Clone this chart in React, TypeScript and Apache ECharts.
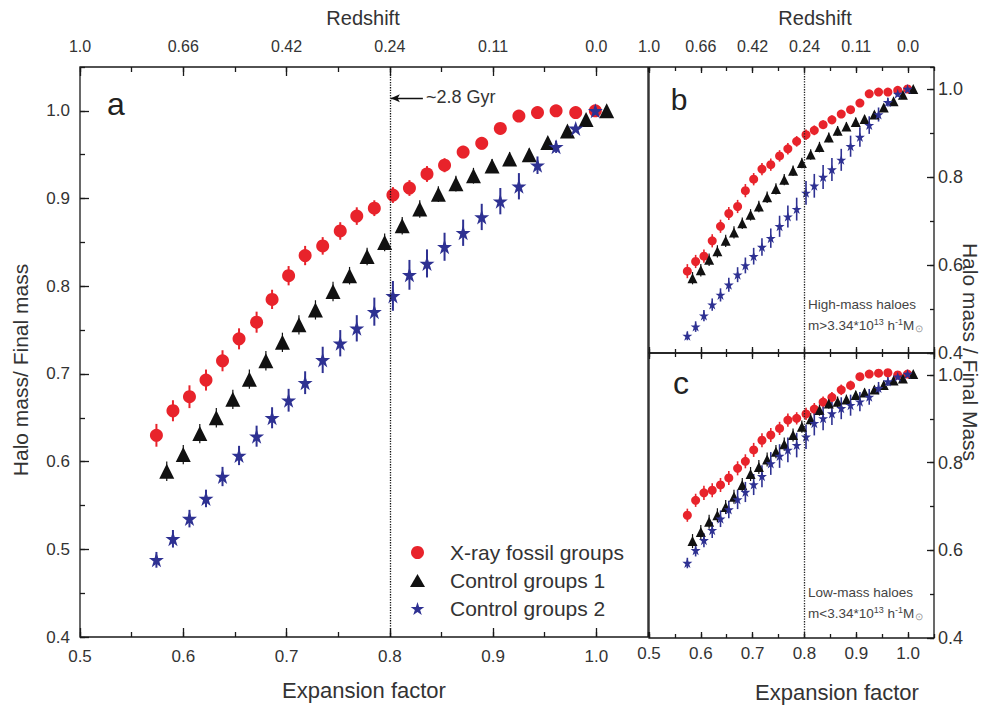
import React, { useEffect, useRef } from "react";
import * as echarts from "echarts";

// ---------- data ----------
const expansionTicks = [0.5, 0.6, 0.7, 0.8, 0.9, 1.0];
const redshiftLabels = ["1.0", "0.66", "0.42", "0.24", "0.11", "0.0"];

// expansion factors of the snapshots
const aRed = [0.574, 0.590, 0.606, 0.622, 0.638, 0.654, 0.671, 0.686, 0.702, 0.718, 0.735, 0.752, 0.768, 0.785, 0.803, 0.819, 0.836, 0.853, 0.871, 0.889, 0.907, 0.925, 0.943, 0.961, 0.980, 0.999];
const aBlack = [0.584, 0.600, 0.616, 0.632, 0.648, 0.664, 0.680, 0.696, 0.712, 0.728, 0.745, 0.761, 0.778, 0.795, 0.812, 0.829, 0.847, 0.864, 0.881, 0.899, 0.916, 0.935, 0.953, 0.972, 0.990, 1.010];

// panel a
const redA = [0.630, 0.658, 0.674, 0.693, 0.715, 0.740, 0.759, 0.785, 0.812, 0.835, 0.846, 0.863, 0.880, 0.889, 0.904, 0.912, 0.928, 0.938, 0.953, 0.963, 0.980, 0.994, 0.998, 1.000, 0.998, 1.000];
const redAErr = [0.013, 0.012, 0.013, 0.012, 0.012, 0.012, 0.012, 0.011, 0.011, 0.011, 0.010, 0.010, 0.010, 0.009, 0.009, 0.009, 0.009, 0.008, 0.007, 0.007, 0.006, 0.004, 0.003, 0.003, 0.003, 0.002];
const blackA = [0.589, 0.608, 0.632, 0.650, 0.671, 0.694, 0.715, 0.736, 0.756, 0.773, 0.794, 0.812, 0.834, 0.850, 0.869, 0.888, 0.905, 0.917, 0.926, 0.937, 0.945, 0.950, 0.964, 0.977, 0.990, 1.000];
const blackAErr = [0.011, 0.011, 0.011, 0.011, 0.011, 0.011, 0.011, 0.011, 0.011, 0.011, 0.011, 0.010, 0.010, 0.010, 0.010, 0.010, 0.009, 0.009, 0.009, 0.008, 0.008, 0.007, 0.006, 0.005, 0.004, 0.003];
const blueA = [0.488, 0.512, 0.535, 0.558, 0.583, 0.607, 0.629, 0.650, 0.670, 0.690, 0.716, 0.735, 0.752, 0.771, 0.789, 0.813, 0.826, 0.845, 0.861, 0.879, 0.897, 0.914, 0.938, 0.959, 0.980, 1.000];
const blueAErr = [0.009, 0.010, 0.010, 0.010, 0.011, 0.011, 0.012, 0.012, 0.013, 0.013, 0.015, 0.015, 0.015, 0.016, 0.017, 0.017, 0.016, 0.016, 0.015, 0.015, 0.015, 0.015, 0.010, 0.007, 0.004, 0.002];

// panel b (high-mass haloes)
const redB = [0.586, 0.608, 0.620, 0.655, 0.688, 0.717, 0.733, 0.769, 0.795, 0.818, 0.828, 0.848, 0.864, 0.881, 0.896, 0.906, 0.919, 0.930, 0.943, 0.953, 0.968, 0.989, 0.993, 0.993, 0.997, 1.000];
const redBErr = [0.016, 0.015, 0.015, 0.015, 0.015, 0.015, 0.015, 0.015, 0.014, 0.014, 0.014, 0.013, 0.013, 0.012, 0.012, 0.011, 0.010, 0.010, 0.009, 0.008, 0.007, 0.005, 0.004, 0.004, 0.003, 0.002];
const blackB = [0.570, 0.588, 0.612, 0.631, 0.655, 0.674, 0.695, 0.714, 0.733, 0.754, 0.773, 0.794, 0.814, 0.832, 0.851, 0.868, 0.890, 0.905, 0.915, 0.925, 0.932, 0.942, 0.958, 0.972, 0.987, 1.000];
const blackBErr = [0.014, 0.014, 0.014, 0.014, 0.014, 0.014, 0.013, 0.013, 0.013, 0.013, 0.013, 0.013, 0.012, 0.012, 0.012, 0.012, 0.011, 0.011, 0.010, 0.010, 0.009, 0.008, 0.007, 0.006, 0.004, 0.003];
const blueB = [0.439, 0.460, 0.485, 0.510, 0.532, 0.555, 0.578, 0.599, 0.620, 0.641, 0.661, 0.688, 0.710, 0.727, 0.764, 0.780, 0.800, 0.817, 0.839, 0.870, 0.891, 0.918, 0.942, 0.970, 0.989, 1.000];
const blueBErr = [0.010, 0.012, 0.013, 0.014, 0.015, 0.016, 0.017, 0.018, 0.019, 0.020, 0.022, 0.024, 0.025, 0.026, 0.027, 0.027, 0.027, 0.026, 0.025, 0.024, 0.022, 0.020, 0.016, 0.010, 0.006, 0.003];

// panel c (low-mass haloes)
const redC = [0.680, 0.714, 0.731, 0.737, 0.749, 0.765, 0.787, 0.803, 0.829, 0.851, 0.863, 0.878, 0.897, 0.901, 0.911, 0.922, 0.938, 0.949, 0.966, 0.976, 0.996, 1.002, 1.004, 1.005, 1.000, 1.002];
const redCErr = [0.015, 0.015, 0.016, 0.016, 0.016, 0.016, 0.016, 0.016, 0.016, 0.016, 0.016, 0.015, 0.015, 0.014, 0.014, 0.014, 0.013, 0.012, 0.012, 0.011, 0.009, 0.008, 0.007, 0.006, 0.004, 0.002];
const blackC = [0.621, 0.642, 0.665, 0.680, 0.699, 0.722, 0.749, 0.774, 0.790, 0.807, 0.825, 0.842, 0.863, 0.882, 0.899, 0.920, 0.935, 0.939, 0.944, 0.954, 0.960, 0.967, 0.977, 0.987, 0.992, 1.002];
const blackCErr = [0.016, 0.016, 0.016, 0.016, 0.016, 0.016, 0.016, 0.016, 0.016, 0.016, 0.015, 0.015, 0.015, 0.014, 0.014, 0.013, 0.012, 0.012, 0.011, 0.010, 0.009, 0.008, 0.007, 0.006, 0.004, 0.003];
const blueC = [0.571, 0.600, 0.623, 0.646, 0.672, 0.693, 0.716, 0.733, 0.750, 0.769, 0.798, 0.815, 0.829, 0.840, 0.859, 0.890, 0.901, 0.912, 0.924, 0.931, 0.939, 0.950, 0.970, 0.985, 0.996, 1.002];
const blueCErr = [0.012, 0.014, 0.016, 0.018, 0.019, 0.020, 0.022, 0.023, 0.024, 0.025, 0.026, 0.027, 0.028, 0.028, 0.028, 0.028, 0.027, 0.026, 0.025, 0.024, 0.022, 0.018, 0.014, 0.010, 0.006, 0.003];

const seriesNames = ["X-ray fossil groups", "Control groups 1", "Control groups 2"];

// ---------- styling ----------
const FONT = '"Liberation Sans", Arial, Helvetica, sans-serif';
const NARROW = '"Liberation Sans Narrow", "Liberation Sans", Arial, sans-serif';
const TEXT = "#333";
const AXIS = "#1a1a1a";
const RED = "#e8232b";
const BLACK = "#111111";
const BLUE = "#2e3192";
const STAR = "path://M50,0 L61.8,35.5 L99,35.5 L69,57.5 L80.5,93 L50,71 L19.5,93 L31,57.5 L1,35.5 L38.2,35.5 Z";

const grids = [
  { left: 80, top: 67, width: 568, height: 570 },
  { left: 649, top: 67, width: 285, height: 286 },
  { left: 649, top: 353, width: 285, height: 285 },
];

const xAxes: any[] = [];
const yAxes: any[] = [];

function xAxisPair(gridIndex: number, position: string, majorLen: number, minorLen: number, label: any) {
  const main = xAxes.length;
  xAxes.push({
    type: "value", gridIndex, position, min: 0.5, max: 1.05, interval: 0.1,
    axisLine: { show: false }, splitLine: { show: false },
    axisTick: { show: true, inside: true, length: majorLen, lineStyle: { color: AXIS, width: 1.3 } },
    axisLabel: label ? { show: true, showMaxLabel: false, showMinLabel: true, ...label } : { show: false },
  });
  xAxes.push({
    type: "value", gridIndex, position, min: 0.5, max: 1.05, interval: 0.05,
    axisLine: { show: false }, splitLine: { show: false }, axisLabel: { show: false },
    axisTick: { show: true, inside: true, length: minorLen, lineStyle: { color: AXIS, width: 1.3 } },
  });
  return main;
}

function yAxisPair(gridIndex: number, position: string, majorStep: number, majorLen: number, minorLen: number, label: any) {
  const main = yAxes.length;
  yAxes.push({
    type: "value", gridIndex, position, min: 0.4, max: 1.05, interval: majorStep,
    axisLine: { show: false }, splitLine: { show: false },
    axisTick: { show: true, inside: true, length: majorLen, lineStyle: { color: AXIS, width: 1.3 } },
    axisLabel: label ? { show: true, showMaxLabel: false, showMinLabel: true, ...label } : { show: false },
  });
  yAxes.push({
    type: "value", gridIndex, position, min: 0.4, max: 1.05, interval: majorStep / 2,
    axisLine: { show: false }, splitLine: { show: false }, axisLabel: { show: false },
    axisTick: { show: true, inside: true, length: minorLen, lineStyle: { color: AXIS, width: 1.3 } },
  });
  return main;
}

const fmt1 = (v: number) => v.toFixed(1);
const fmtZ = (v: number) => {
  const i = expansionTicks.findIndex((t) => Math.abs(t - v) < 1e-6);
  return i >= 0 ? redshiftLabels[i] : "";
};
const tickLabel = { fontFamily: FONT, fontSize: 17, color: TEXT };

// panel a axes
const axA = {
  x: xAxisPair(0, "bottom", 9, 5, { ...tickLabel, margin: 11, formatter: fmt1 }),
  xTop: xAxisPair(0, "top", 9, 5, { fontFamily: NARROW, fontSize: 16, color: TEXT, margin: 13, formatter: fmtZ }),
  y: yAxisPair(0, "left", 0.1, 9, 5, { ...tickLabel, margin: 10, formatter: fmt1 }),
};
// panel b axes
const axB = {
  x: xAxisPair(1, "bottom", 6, 4, null),
  xTop: xAxisPair(1, "top", 6, 4, { fontFamily: NARROW, fontSize: 16, color: TEXT, margin: 13, formatter: fmtZ }),
  y: yAxisPair(1, "right", 0.2, 7, 4, { fontFamily: FONT, fontSize: 18, color: TEXT, margin: 4, formatter: fmt1 }),
};
// panel c axes
const axC = {
  x: xAxisPair(2, "bottom", 6, 4, { ...tickLabel, margin: 7, formatter: fmt1 }),
  xTop: xAxisPair(2, "top", 6, 4, null),
  y: yAxisPair(2, "right", 0.2, 7, 4, { fontFamily: FONT, fontSize: 18, color: TEXT, margin: 4, formatter: fmt1 }),
};

function errSeries(name: string, ax: any, xs: number[], ys: number[], es: number[], color: string, width: number) {
  return {
    type: "custom", name, xAxisIndex: ax.x, yAxisIndex: ax.y, z: 2,
    encode: { x: 0, y: 1 },
    data: xs.map((x, i) => [x, ys[i], es[i]]),
    renderItem: (params: any, api: any) => {
      const x = api.value(0), y = api.value(1), e = api.value(2);
      const p1 = api.coord([x, y - e]);
      const p2 = api.coord([x, y + e]);
      return { type: "line", shape: { x1: p1[0], y1: p1[1], x2: p2[0], y2: p2[1] }, style: { stroke: color, lineWidth: width } };
    },
    silent: true,
  };
}

function scat(name: string, ax: any, xs: number[], ys: number[], symbol: string, size: number, color: string, extra: any = {}) {
  return {
    type: "scatter", name, xAxisIndex: ax.x, yAxisIndex: ax.y, z: 3,
    symbol, symbolSize: size,
    itemStyle: { color, opacity: 1 },
    data: xs.map((x, i) => [x, ys[i]]),
    ...extra,
  };
}

const dottedLine = (color: string) => ({
  silent: true, symbol: "none", label: { show: false },
  lineStyle: { type: "dotted", color, width: 1.3 },
  data: [{ xAxis: 0.8 }],
});

const series: any[] = [];
function panel(ax: any, tag: string, red: number[], redE: number[], black: number[], blackE: number[], blue: number[], blueE: number[], big: boolean, extraRed: any, extraBlack: any) {
  series.push(errSeries(tag + "-err-red", ax, aRed, red, redE, RED, big ? 2 : 1.6));
  series.push(errSeries(tag + "-err-black", ax, aBlack, black, blackE, BLACK, 1.2));
  series.push(errSeries(tag + "-err-blue", ax, aRed, blue, blueE, BLUE, big ? 2 : 1.6));
  series.push(scat(seriesNames[0], ax, aRed, red, "circle", big ? 13 : 9, RED, extraRed));
  series.push(scat(seriesNames[1], ax, aBlack, black, "triangle", big ? 15 : 10, BLACK, extraBlack));
  series.push(scat(seriesNames[2], ax, aRed, blue, STAR, big ? 15 : 10, BLUE));
}

panel(axA, "a", redA, redAErr, blackA, blackAErr, blueA, blueAErr, true,
  { markLine: dottedLine("#111") },
  {
    markLine: {
      silent: true, label: { show: false }, symbol: ["none", "arrow"], symbolSize: [6, 9],
      lineStyle: { type: "solid", color: "#111", width: 1.3 },
      data: [[{ coord: [0.832, 1.0145] }, { coord: [0.801, 1.0145] }]],
    },
  });
panel(axB, "b", redB, redBErr, blackB, blackBErr, blueB, blueBErr, false, { markLine: dottedLine("#222") }, {});
panel(axC, "c", redC, redCErr, blackC, blackCErr, blueC, blueCErr, false, { markLine: dottedLine("#222") }, {});

const annoRich = {
  sup: { fontFamily: FONT, fontSize: 9, fill: "#444", padding: [0, 0, 7, 0] },
  sun: { fontFamily: FONT, fontSize: 10, fill: "#999", padding: [7, 0, 0, 1] },
  n: { fontFamily: FONT, fontSize: 13.5, fill: "#444" },
};

export default function App() {
  const ref = useRef<HTMLDivElement>(null);
  useEffect(() => {
    if (!ref.current) return;
    const chart = echarts.init(ref.current, null, { renderer: "svg" });
    chart.setOption({
      animation: false,
      backgroundColor: "#ffffff",
      grid: grids.map((g) => ({ ...g, show: true, borderColor: AXIS, borderWidth: 1.3, backgroundColor: "transparent", containLabel: false, outerBoundsMode: "none" })),
      xAxis: xAxes,
      yAxis: yAxes,
      legend: {
        data: seriesNames,
        orient: "vertical",
        left: 405,
        top: 537,
        itemWidth: 15,
        itemHeight: 13,
        itemGap: 7,
        selectedMode: false,
        textStyle: { fontFamily: FONT, fontSize: 21, color: TEXT, padding: [0, 0, 0, 20] },
      },
      series,
      graphic: [
        { type: "text", left: 426, top: 88, style: { text: "~2.8 Gyr", fontFamily: FONT, fontSize: 18, fill: TEXT } },
        { type: "text", x: 363, y: 18, style: { text: "Redshift", fontFamily: FONT, fontSize: 20, fill: TEXT, align: "center", verticalAlign: "middle" } },
        { type: "text", x: 815, y: 18, style: { text: "Redshift", fontFamily: FONT, fontSize: 20, fill: TEXT, align: "center", verticalAlign: "middle" } },
        { type: "text", x: 364, y: 690, style: { text: "Expansion factor", fontFamily: FONT, fontSize: 22, fill: TEXT, align: "center", verticalAlign: "middle" } },
        { type: "text", x: 837, y: 692, style: { text: "Expansion factor", fontFamily: FONT, fontSize: 22, fill: TEXT, align: "center", verticalAlign: "middle" } },
        { type: "text", x: 20, y: 370, rotation: Math.PI / 2, style: { text: "Halo mass/ Final mass", fontFamily: FONT, fontSize: 21, fill: TEXT, align: "center", verticalAlign: "middle" } },
        { type: "text", x: 970, y: 352, rotation: -Math.PI / 2, style: { text: "Halo mass / Final Mass", fontFamily: FONT, fontSize: 21, fill: TEXT, align: "center", verticalAlign: "middle" } },
        { type: "text", x: 116, y: 104, style: { text: "a", fontFamily: FONT, fontSize: 32, fill: "#222", align: "center", verticalAlign: "middle" } },
        { type: "text", x: 679, y: 99, style: { text: "b", fontFamily: FONT, fontSize: 30, fill: "#222", align: "center", verticalAlign: "middle" } },
        { type: "text", x: 681, y: 383, style: { text: "c", fontFamily: FONT, fontSize: 32, fill: "#222", align: "center", verticalAlign: "middle" } },
        { type: "text", left: 808, top: 297, style: { text: "High-mass haloes", fontFamily: FONT, fontSize: 13.5, fill: "#444" } },
        { type: "text", left: 808, top: 317, style: { text: "{n|m>3.34*10}{sup|13}{n| h}{sup|-1}{n|M}{sun|⊙}", rich: annoRich } },
        { type: "text", left: 808, top: 585, style: { text: "Low-mass haloes", fontFamily: FONT, fontSize: 13.5, fill: "#444" } },
        { type: "text", left: 808, top: 605, style: { text: "{n|m<3.34*10}{sup|13}{n| h}{sup|-1}{n|M}{sun|⊙}", rich: annoRich } },
      ],
    });
    return () => chart.dispose();
  }, []);
  return <div ref={ref} style={{ position: "fixed", left: 0, top: 0, width: 981, height: 706 }} />;
}
